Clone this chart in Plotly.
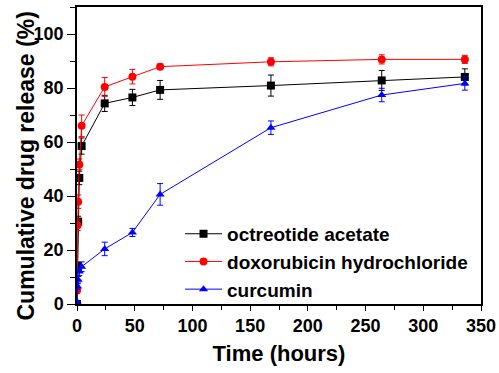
import plotly.graph_objects as go

time_h = [0, 0.5, 1, 2, 4, 24, 48, 72, 168, 264, 336]

octreotide = [0, 14, 30.5, 46.7, 58.5, 74.3, 76.5, 79.3, 80.9, 82.8, 84.1]
octreotide_err = [0.5, 1.5, 2, 2.5, 3, 3, 3, 3.5, 3.9, 3.7, 3]

doxorubicin = [5, 29.2, 37.9, 51.7, 66, 80.4, 84.2, 87.9, 89.7, 90.6, 90.6]
doxorubicin_err = [1, 2, 2.5, 2, 4, 3.5, 2.7, 1, 1.5, 1.7, 1.5]

curcumin = [0.8, 6.5, 9, 12, 13.8, 20.4, 26.5, 40.6, 65.3, 77.4, 81.7]
curcumin_err = [0.3, 1, 1.2, 1.5, 1.8, 2.5, 1.5, 4, 2.5, 2.5, 2.5]

series = [
    ("octreotide acetate", octreotide, octreotide_err, "#000000", "square"),
    ("doxorubicin hydrochloride", doxorubicin, doxorubicin_err, "#ff0000", "circle"),
    ("curcumin", curcumin, curcumin_err, "#0000ff", "triangle-up"),
]

fig = go.Figure()
for name, vals, errs, color, sym in series:
    fig.add_trace(go.Scatter(
        x=time_h, y=vals, name=name, mode="lines+markers",
        line=dict(color=color, width=1),
        marker=dict(color=color, symbol=sym, size=8),
        error_y=dict(type="data", array=errs, visible=True, color=color,
                     thickness=1, width=3),
    ))

font_family = "Liberation Sans, Arial, sans-serif"
fig.update_layout(
    width=499, height=373,
    margin=dict(l=77, r=18, t=7, b=69),
    paper_bgcolor="white", plot_bgcolor="white",
    font=dict(family=font_family, size=18, color="black", weight="bold"),
    showlegend=True,
    legend=dict(x=0.255, y=0.3, xanchor="left", yanchor="top",
                bgcolor="rgba(0,0,0,0)", font=dict(size=19, weight="bold"),
                tracegroupgap=0, itemwidth=37),
    xaxis=dict(
        range=[0, 350], tickvals=[0, 50, 100, 150, 200, 250, 300, 350],
        showline=True, linecolor="black", linewidth=1.5, mirror=True,
        ticks="outside", ticklen=5, tickwidth=1, tickcolor="black",
        minor=dict(dtick=25, tick0=0, ticks="outside", ticklen=4, tickcolor="black"),
        showgrid=False, zeroline=False, automargin=False,
        ticklabeloverflow="allow",
        title=dict(text="Time (hours)", font=dict(size=22, weight="bold"), standoff=10),
        tickfont=dict(size=18, weight="bold"),
    ),
    yaxis=dict(
        range=[0, 110], tickvals=[0, 20, 40, 60, 80, 100],
        showline=True, linecolor="black", linewidth=1.5, mirror=True,
        ticks="outside", ticklen=8, tickwidth=1, tickcolor="black",
        minor=dict(dtick=10, tick0=0, ticks="outside", ticklen=5, tickcolor="black"),
        showgrid=False, zeroline=False, automargin=False,
        tickfont=dict(size=18, weight="bold"),
    ),
    annotations=[dict(
        text="Cumulative drug release (%)", textangle=-90,
        xref="paper", yref="paper", x=0, y=0.5, xanchor="center", yanchor="middle",
        xshift=-52, yshift=-11, showarrow=False,
        font=dict(size=23, weight="bold", family=font_family, color="black"),
    )],
)

fig.write_html(
    "out.html",
    config={"displayModeBar": False},
    post_script="document.body.style.margin='0';document.body.style.overflow='hidden';",
)
